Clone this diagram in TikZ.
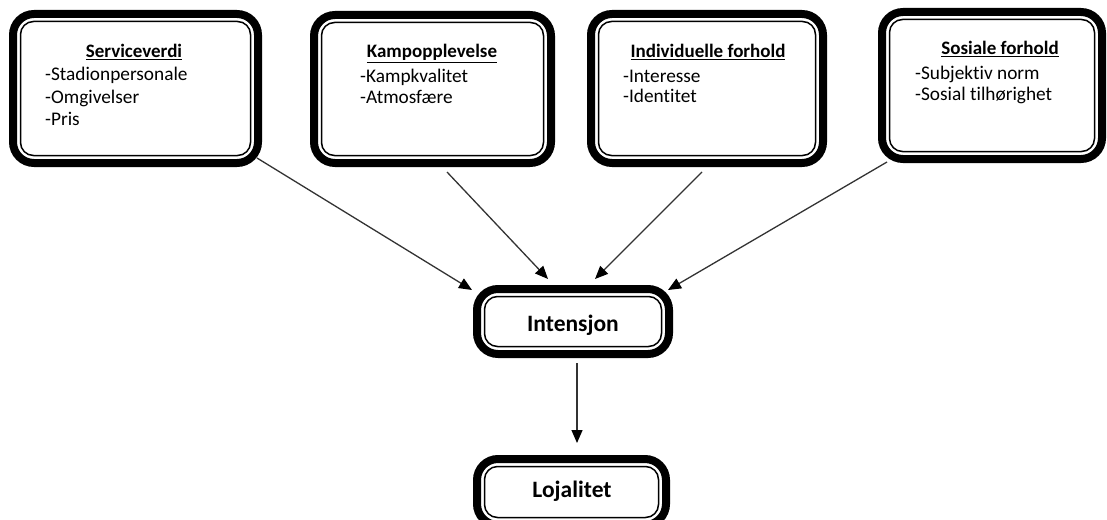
\documentclass[tikz,border=0pt]{standalone}
\usepackage{fontspec}
\setmainfont{Carlito}[Ligatures=NoCommon]
\usetikzlibrary{arrows.meta,calc}
\tikzset{
  box/.style={draw=black, line width=8pt, rounded corners=21pt, inner sep=0pt, fill=white},
  innerline/.style={draw=black, line width=1.5pt, rounded corners=13pt},
  ttl/.style={anchor=base, inner sep=0pt, font=\fontsize{19}{22}\selectfont\bfseries},
  itm/.style={anchor=base west, inner sep=0pt, font=\fontsize{19.3}{22}\selectfont},
  big/.style={anchor=base, inner sep=0pt, font=\fontsize{23.5}{27}\selectfont\bfseries},
  conn/.style={draw=black!80, line width=1.3pt, -{Triangle[length=13pt,width=11pt,color=black]}}
}
\begin{document}
\begin{tikzpicture}[x=1pt,y=-1pt]
\useasboundingbox (0,0) rectangle (1107,519);
% boxes
\node[box, minimum width=245pt, minimum height=149pt] (b1) at (135.5,88.5) {};
\node[box, minimum width=237pt, minimum height=148pt] (b2) at (432.5,89) {};
\node[box, minimum width=232pt, minimum height=149pt] (b3) at (707,88.5) {};
\node[box, minimum width=220pt, minimum height=147pt] (b4) at (992,85.5) {};
\node[box, minimum width=192pt, minimum height=65pt] (int) at (573,321.5) {};
\node[box, minimum width=189pt, minimum height=66pt] (loj) at (571.5,492) {};
\foreach \n in {b1,b2,b3,b4,int,loj}
  \draw[innerline] ([shift={(11.5,11.5)}]\n.north west) rectangle ([shift={(-11.5,-11.5)}]\n.south east);
% texts
\node[ttl] (t1) at (134,58) {\underline{Serviceverdi}};
\node[itm] (t1a) at (45,81) {-Stadionpersonale};
\node[itm] (t1b) at (45,103) {-Omgivelser};
\node[itm] (t1c) at (45,125) {-Pris};
\node[ttl] (t2) at (432,58) {\underline{Kampopplevelse}};
\node[itm] (t2a) at (360,82) {-Kampkvalitet};
\node[itm] (t2b) at (360,103) {-Atmosfære};
\node[ttl] (t3) at (708,58) {\underline{Individuelle forhold}};
\node[itm] (t3a) at (623,82) {-Interesse};
\node[itm] (t3b) at (623,102) {-Identitet};
\node[ttl] (t4) at (1000,55) {\underline{Sosiale forhold}};
\node[itm] (t4a) at (915,79) {-Subjektiv norm};
\node[itm] (t4b) at (915,100) {-Sosial tilhørighet};
\node[big] (ti) at (573,331) {Intensjon};
\node[big] (tl) at (572,497) {Lojalitet};
% connectors
\draw[conn] ($(b1.south east)+(-5,-9)$) -- ($(int.north west)+(-1,5)$);
\draw[conn] ($(b2.south)+(14.5,5)$) -- ($(int.north)+(-25,-6)$);
\draw[conn] ($(b3.south)+(-5,5)$) -- ($(int.north)+(22,-6)$);
\draw[conn] ($(b4.south west)+(9,-1)$) -- ($(int.north east)+(-5,5)$);
\draw[conn] ($(int.south)+(4,5)$) -- ($(loj.north)+(5.5,-12)$);
\end{tikzpicture}
\end{document}
